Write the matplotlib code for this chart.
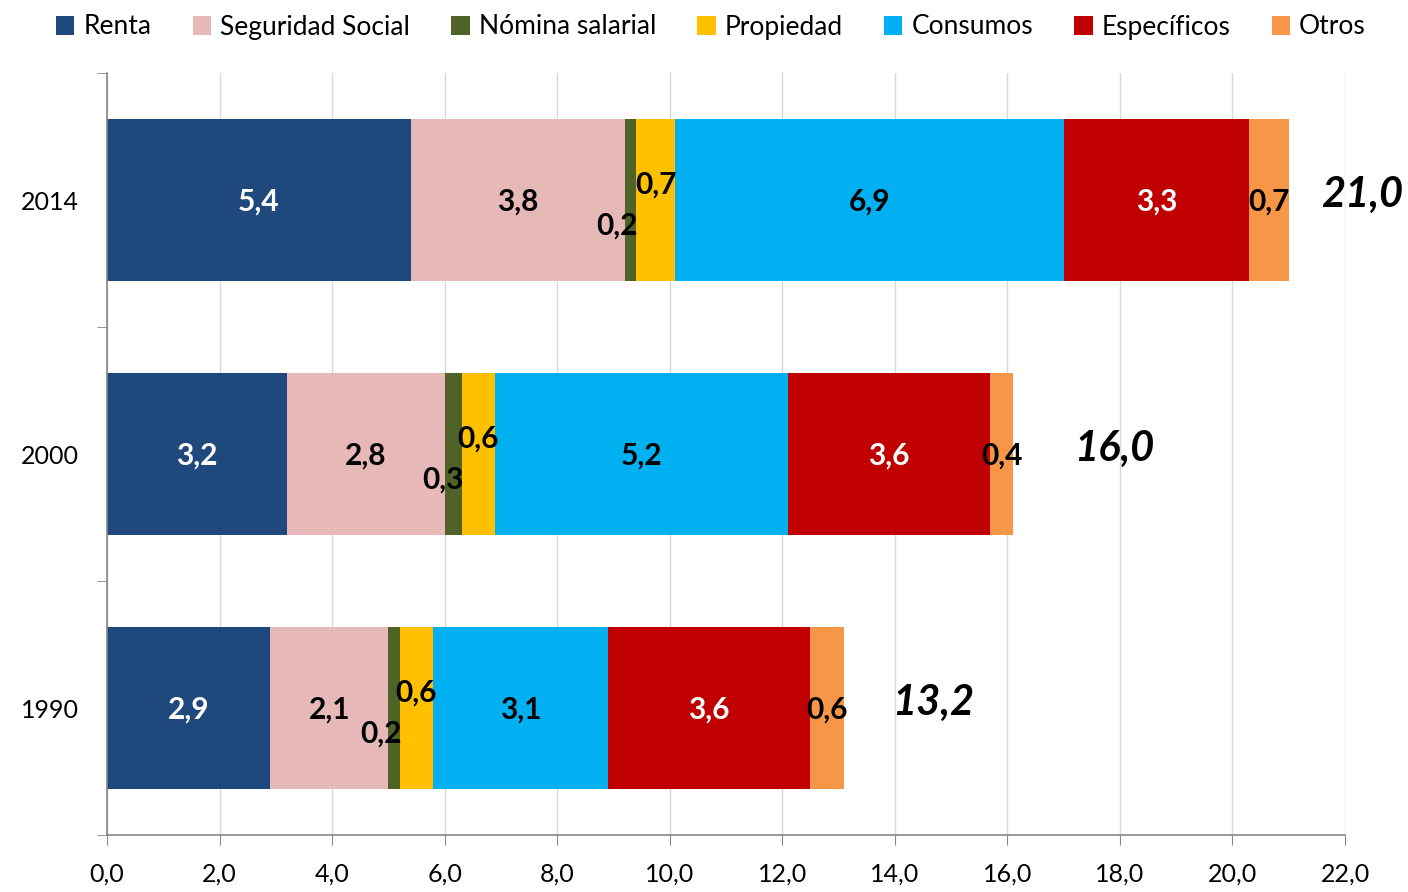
import matplotlib
matplotlib.use("Agg")
import matplotlib.pyplot as plt
from matplotlib.patches import Patch

plt.rcParams['font.family'] = ['Lato', 'DejaVu Sans']

years = ["1990", "2000", "2014"]
series = ["Renta", "Seguridad Social", "Nómina salarial", "Propiedad", "Consumos", "Específicos", "Otros"]
colors = ["#1F497D", "#E6B9B8", "#4F6228", "#FFC000", "#00B0F0", "#C00000", "#F79646"]
values = {
    "Renta":            [2.9, 3.2, 5.4],
    "Seguridad Social": [2.1, 2.8, 3.8],
    "Nómina salarial":  [0.2, 0.3, 0.2],
    "Propiedad":        [0.6, 0.6, 0.7],
    "Consumos":         [3.1, 5.2, 6.9],
    "Específicos":      [3.6, 3.6, 3.3],
    "Otros":            [0.6, 0.4, 0.7],
}
totals = [13.2, 16.0, 21.0]
total_offsets = [0.85, 1.08, 0.58]
label_colors = ["white", "black", "black", "black", "black", "white", "black"]
xticks = [0, 2, 4, 6, 8, 10, 12, 14, 16, 18, 20, 22]

def fmt(v):
    return f"{v:.1f}".replace(".", ",")

fig = plt.figure(figsize=(14.08, 8.92), dpi=100)
ax = fig.add_axes([107/1408, 57/892, (1345-107)/1408, (835-73)/892])

ypos = list(range(len(years)))
left = [0.0]*len(years)
for si, s in enumerate(series):
    vals = values[s]
    ax.barh(ypos, vals, left=left, height=0.64, color=colors[si], zorder=2)
    for i, v in enumerate(vals):
        cx = left[i] + v/2
        ha = "center"
        if s == "Nómina salarial":
            cx = left[i] + v + 0.03
            ha = "right"
            cy = ypos[i] - 0.1
        elif s == "Propiedad":
            cy = ypos[i] + 0.06
        else:
            cy = ypos[i] - 0.005
        ax.text(cx, cy, fmt(v), ha=ha, va="center", fontsize=21.5, fontweight="bold",
                color=label_colors[si], zorder=3)
    left = [l + v for l, v in zip(left, vals)]

for i, t in enumerate(totals):
    ax.text(left[i] + total_offsets[i], ypos[i] + 0.02, fmt(t), ha="left", va="center",
            fontsize=30, fontweight="bold", fontstyle="italic", color="black")

ax.set_xlim(0, 22)
ax.set_ylim(-0.5, 2.5)
ax.set_xticks(xticks)
ax.set_xticklabels([fmt(x) for x in xticks], fontsize=18)
ax.set_yticks(ypos)
ax.set_yticklabels(years, fontsize=18)
ax.set_yticks([-0.5, 0.5, 1.5, 2.5], minor=True)
ax.tick_params(axis="y", which="major", length=0, pad=20)
ax.tick_params(axis="y", which="minor", length=7, color="#868686", direction="out")
ax.tick_params(axis="x", which="major", length=7, color="#868686", direction="out", pad=13)
ax.grid(axis="x", color="#D9D9D9", linewidth=1, zorder=0)
ax.set_axisbelow(True)
for sp in ["top", "right"]:
    ax.spines[sp].set_visible(False)
for sp in ["left", "bottom"]:
    ax.spines[sp].set_color("#868686")
    ax.spines[sp].set_linewidth(1.2)

handles = [Patch(facecolor=c, edgecolor="none") for c in colors]
fig.legend(handles, series, loc="center", bbox_to_anchor=(711/1408, 1 - 27/892), ncol=7,
           frameon=False, fontsize=19, handlelength=0.7, handleheight=0.7,
           handletextpad=0.35, columnspacing=1.55)

fig.savefig("out.png", dpi=100)
